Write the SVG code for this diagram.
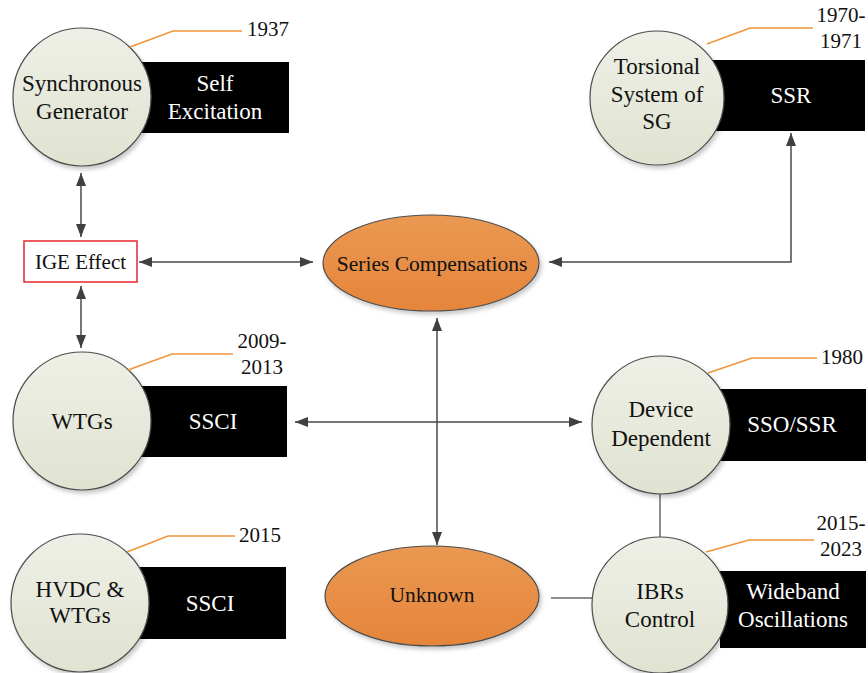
<svg xmlns="http://www.w3.org/2000/svg" width="868" height="673" viewBox="0 0 868 673">
  <defs>
    <linearGradient id="discFill" x1="0" y1="0" x2="0" y2="1">
      <stop offset="0" stop-color="#eef0e7"/>
      <stop offset="1" stop-color="#dfe3d0"/>
    </linearGradient>
    <linearGradient id="ovalFill" x1="0" y1="0" x2="0" y2="1">
      <stop offset="0" stop-color="#ea9852"/>
      <stop offset="1" stop-color="#e5853a"/>
    </linearGradient>
    <filter id="shade" x="-20%" y="-20%" width="150%" height="150%">
      <feDropShadow dx="2" dy="3" stdDeviation="2" flood-color="#000" flood-opacity="0.22"/>
    </filter>
    <marker id="tip" viewBox="0 0 13 10" markerWidth="13" markerHeight="10" refX="13" refY="5" orient="auto-start-reverse" markerUnits="userSpaceOnUse">
      <path d="M0,0 L13,5 L0,10 z" fill="#404040"/>
    </marker>
  </defs>
  <style>
    .disc { fill: url(#discFill); stroke: #4d4d4d; stroke-width: 1.2; filter: url(#shade); }
    .oval { fill: url(#ovalFill); stroke: #4d4d4d; stroke-width: 1.2; filter: url(#shade); }
    .band { fill: #000; }
    .lbl { font-family: "Liberation Serif", "Times New Roman", serif; font-size: 23px; fill: #111; text-anchor: middle; }
    .inv { font-family: "Liberation Serif", "Times New Roman", serif; font-size: 23px; fill: #fff; text-anchor: middle; }
    .year { font-family: "Liberation Serif", "Times New Roman", serif; font-size: 21px; fill: #111; text-anchor: middle; }
    .small { font-family: "Liberation Serif", "Times New Roman", serif; font-size: 21.5px; fill: #111; text-anchor: middle; }
    .lead { fill: none; stroke: #f0943a; stroke-width: 1.5; }
    .link { fill: none; stroke: #4a4a4a; stroke-width: 1.5; }
    .plain { fill: none; stroke: #6a6a6a; stroke-width: 1.5; }
  </style>

  <!-- connectors -->
  <g id="connectors">
    <line class="link" x1="81" y1="173" x2="81" y2="237" marker-start="url(#tip)" marker-end="url(#tip)"/>
    <line class="link" x1="81" y1="286" x2="81" y2="348" marker-start="url(#tip)" marker-end="url(#tip)"/>
    <line class="link" x1="139" y1="262" x2="313" y2="262" marker-start="url(#tip)" marker-end="url(#tip)"/>
    <polyline class="link" points="791,133 791,262 549,262" marker-start="url(#tip)" marker-end="url(#tip)"/>
    <line class="link" x1="437" y1="318" x2="437" y2="545" marker-start="url(#tip)" marker-end="url(#tip)"/>
    <line class="link" x1="295" y1="422" x2="582" y2="422" marker-start="url(#tip)" marker-end="url(#tip)"/>
    <line class="plain" x1="660" y1="494" x2="660" y2="537"/>
    <line class="plain" x1="551" y1="598" x2="592" y2="598"/>
  </g>

  <!-- Synchronous Generator / Self Excitation -->
  <g id="sync-gen">
    <rect class="band" x="140" y="62" width="149" height="71"/>
    <circle class="disc" cx="82" cy="97" r="69"/>
    <text class="lbl" x="82" y="91">Synchronous</text>
    <text class="lbl" x="82" y="119">Generator</text>
    <text class="inv" x="215" y="91">Self</text>
    <text class="inv" x="215" y="119">Excitation</text>
    <polyline class="lead" points="130,47 173,31 242,31"/>
    <text class="year" x="268" y="36">1937</text>
  </g>

  <!-- Torsional System of SG / SSR -->
  <g id="torsional">
    <rect class="band" x="700" y="60" width="165" height="71"/>
    <circle class="disc" cx="657" cy="98" r="67"/>
    <text class="lbl" x="657" y="74">Torsional</text>
    <text class="lbl" x="657" y="102">System of</text>
    <text class="lbl" x="657" y="129">SG</text>
    <text class="inv" x="791" y="103">SSR</text>
    <polyline class="lead" points="707,44 750,28 813,28"/>
    <text class="year" x="841" y="22">1970-</text>
    <text class="year" x="841" y="48">1971</text>
  </g>

  <!-- IGE Effect -->
  <g id="ige">
    <rect x="24" y="241" width="113" height="41" fill="#fff" stroke="#e5262b" stroke-width="1.5"/>
    <text class="lbl" x="80.5" y="269" style="font-size:21px">IGE Effect</text>
  </g>

  <!-- Series Compensations -->
  <g id="series">
    <ellipse class="oval" cx="431" cy="263" rx="108" ry="48"/>
    <text class="small" x="432" y="271">Series Compensations</text>
  </g>

  <!-- WTGs / SSCI -->
  <g id="wtgs">
    <rect class="band" x="140" y="386" width="147" height="71"/>
    <circle class="disc" cx="82" cy="421" r="69"/>
    <text class="lbl" x="82" y="429">WTGs</text>
    <text class="inv" x="213" y="429">SSCI</text>
    <polyline class="lead" points="128,370 172,354 233,354"/>
    <text class="year" x="262" y="348">2009-</text>
    <text class="year" x="262" y="374">2013</text>
  </g>

  <!-- Device Dependent / SSO/SSR -->
  <g id="device">
    <rect class="band" x="720" y="389" width="146" height="72"/>
    <circle class="disc" cx="661" cy="425" r="69"/>
    <text class="lbl" x="661" y="417">Device</text>
    <text class="lbl" x="661" y="446">Dependent</text>
    <text class="inv" x="792" y="432">SSO/SSR</text>
    <polyline class="lead" points="708,373 752,358 817,358"/>
    <text class="year" x="842" y="364">1980</text>
  </g>

  <!-- HVDC & WTGs / SSCI -->
  <g id="hvdc">
    <rect class="band" x="140" y="567" width="146" height="72"/>
    <circle class="disc" cx="80" cy="603" r="69"/>
    <text class="lbl" x="80" y="597">HVDC &amp;</text>
    <text class="lbl" x="80" y="623">WTGs</text>
    <text class="inv" x="210" y="611">SSCI</text>
    <polyline class="lead" points="127,552 168,536 235,536"/>
    <text class="year" x="260" y="542">2015</text>
  </g>

  <!-- Unknown -->
  <g id="unknown">
    <ellipse class="oval" cx="432" cy="596" rx="107" ry="50"/>
    <text class="small" x="432" y="602">Unknown</text>
  </g>

  <!-- IBRs Control / Wideband Oscillations -->
  <g id="ibrs">
    <rect class="band" x="720" y="571" width="146" height="77"/>
    <circle class="disc" cx="660" cy="605" r="68"/>
    <text class="lbl" x="660" y="599">IBRs</text>
    <text class="lbl" x="660" y="627">Control</text>
    <text class="inv" x="793" y="599">Wideband</text>
    <text class="inv" x="793" y="627">Oscillations</text>
    <polyline class="lead" points="706,552 749,540 814,540"/>
    <text class="year" x="841" y="530">2015-</text>
    <text class="year" x="841" y="556">2023</text>
  </g>
</svg>
